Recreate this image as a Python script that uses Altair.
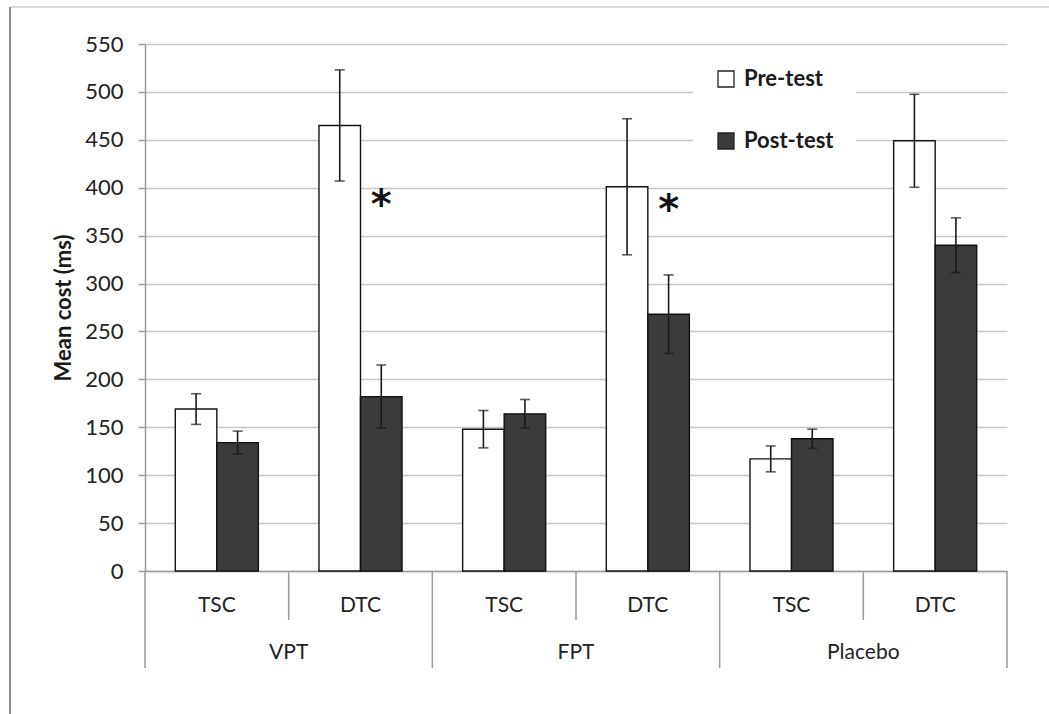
import altair as alt
import pandas as pd

# ---- data ----
groups = ["VPT", "VPT", "FPT", "FPT", "Placebo", "Placebo"]
conditions = ["TSC", "DTC", "TSC", "DTC", "TSC", "DTC"]
series = ["Pre-test", "Post-test"]
pre_mean = [169, 465, 148, 401, 117, 449]
pre_err = [16, 58, 19.5, 71, 13.5, 48.5]
post_mean = [134, 182, 164, 268, 138, 340]
post_err = [12, 33, 15, 41, 10, 28.5]
sig_cats = ["VPT DTC", "FPT DTC"]
sig_y = [387, 382]
y_ticks = list(range(0, 551, 50))

cats = [f"{g} {c}" for g, c in zip(groups, conditions)]

rows = []
for i, cat in enumerate(cats):
    for s, m, e in (("Pre-test", pre_mean[i], pre_err[i]), ("Post-test", post_mean[i], post_err[i])):
        rows.append({"cat": cat, "series": s, "mean": m, "lo": m - e, "hi": m + e})
df = pd.DataFrame(rows)

sig_df = pd.DataFrame({"cat": sig_cats, "series": ["Post-test"] * len(sig_cats), "y": sig_y})
group_start_df = pd.DataFrame({"cat": [c for c, k in zip(cats, conditions) if k == "TSC"]})
mid_df = pd.DataFrame({"cat": [c for c, k in zip(cats, conditions) if k == "DTC"]})
end_df = pd.DataFrame({"cat": [cats[-1]]})
glabel_df = pd.DataFrame({"cat": [c for c, k in zip(cats, conditions) if k == "DTC"],
                          "group": [g for g, k in zip(groups, conditions) if k == "DTC"]})

W, H = 862, 527
FONT = "Lato"
AXIS_GRAY = "#9a9a9a"

x_scale = alt.Scale(domain=cats, paddingInner=0, paddingOuter=0)
xo_scale = alt.Scale(domain=series, paddingInner=0, paddingOuter=0.73)
y_scale = alt.Scale(domain=[0, 550], nice=False)

x_enc = alt.X(
    "cat:N", sort=cats, scale=x_scale, title=None,
    axis=alt.Axis(labelExpr="split(datum.value, ' ')[1]", labelAngle=0, ticks=False, tickSize=0,
                  labelPadding=34, labelBaseline="middle", labelFont=FONT, labelFontSize=21,
                  labelColor="#222222", domainColor=AXIS_GRAY, domainWidth=1.5, grid=False),
)
xo_enc = alt.XOffset("series:N", sort=series, scale=xo_scale)

bars = alt.Chart(df).mark_bar(stroke="#111111", strokeWidth=1.4).encode(
    x=x_enc,
    xOffset=xo_enc,
    y=alt.Y("mean:Q", scale=y_scale,
            axis=alt.Axis(values=y_ticks, title="Mean cost (ms)", titleFont=FONT, titleFontSize=22,
                          titleFontWeight="bold", titleColor="#1a1a1a", titleAngle=-90,
                          titleX=-82, titleY=H / 2, titleBaseline="middle", titleAlign="center",
                          labelFont=FONT, labelFontSize=22, labelColor="#222222", labelPadding=15,
                          tickSize=7, tickColor=AXIS_GRAY, tickWidth=1.5, domainColor=AXIS_GRAY,
                          domainWidth=1.5, gridColor="#c6c6c6", gridWidth=1.6)),
    fill=alt.Fill("series:N", sort=series,
                  scale=alt.Scale(domain=series, range=["#ffffff", "#3b3b3b"]),
                  legend=alt.Legend(title=None, orient="none", legendX=548, legendY=2,
                                    symbolType="square", symbolSize=256, symbolStrokeColor="#222222",
                                    symbolStrokeWidth=1.3, labelFont=FONT, labelFontSize=22,
                                    labelFontWeight="bold", labelColor="#1a1a1a", labelOffset=7,
                                    rowPadding=40, padding=22, fillColor="white")),
)

err_rule = alt.Chart(df).mark_rule(color="#1a1a1a", strokeWidth=1.6).encode(
    x=alt.X("cat:N", sort=cats), xOffset=xo_enc, y="lo:Q", y2="hi:Q")
cap_lo = alt.Chart(df).mark_tick(color="#1a1a1a", thickness=1.6, size=10, orient="horizontal").encode(
    x=alt.X("cat:N", sort=cats), xOffset=xo_enc, y="lo:Q")
cap_hi = alt.Chart(df).mark_tick(color="#1a1a1a", thickness=1.6, size=10, orient="horizontal").encode(
    x=alt.X("cat:N", sort=cats), xOffset=xo_enc, y="hi:Q")

stars = alt.Chart(sig_df).mark_text(text="*", font="DejaVu Sans", fontSize=40, fontWeight="bold",
                                    color="#111111", baseline="alphabetic", dy=18).encode(
    x=alt.X("cat:N", sort=cats), xOffset=xo_enc, y="y:Q")

sep_group = alt.Chart(group_start_df).mark_rule(color=AXIS_GRAY, strokeWidth=1.5).encode(
    x=alt.X("cat:N", sort=cats, bandPosition=0), y=alt.value(H), y2=alt.value(H + 97))
sep_mid = alt.Chart(mid_df).mark_rule(color=AXIS_GRAY, strokeWidth=1.5).encode(
    x=alt.X("cat:N", sort=cats, bandPosition=0), y=alt.value(H), y2=alt.value(H + 49))
sep_end = alt.Chart(end_df).mark_rule(color=AXIS_GRAY, strokeWidth=1.5).encode(
    x=alt.X("cat:N", sort=cats, bandPosition=1), y=alt.value(H), y2=alt.value(H + 97))

glabels = alt.Chart(glabel_df).mark_text(font=FONT, fontSize=21, color="#222222", baseline="middle").encode(
    x=alt.X("cat:N", sort=cats, bandPosition=0), y=alt.value(H + 82), text="group:N")

frame_df = pd.DataFrame({"k": [0]})
frame_left = alt.Chart(frame_df).mark_rule(color="#8c8c8c", strokeWidth=2).encode(
    x=alt.value(-135), y=alt.value(-37), y2=alt.value(H + 143))
frame_top = alt.Chart(frame_df).mark_rule(color="#b4b4b4", strokeWidth=1.2).encode(
    x=alt.value(-135), x2=alt.value(W + 42), y=alt.value(-37))

chart = alt.layer(
    bars, err_rule, cap_lo, cap_hi, stars, sep_group, sep_mid, sep_end, glabels, frame_left, frame_top
).properties(
    width=W, height=H,
    padding={"left": 145, "top": 44, "right": 42, "bottom": 143},
    autosize=alt.AutoSizeParams(type="none"),
    background="white",
).configure_view(strokeWidth=0)

chart.save("out.html", embed_options={"renderer": "svg", "actions": False})
